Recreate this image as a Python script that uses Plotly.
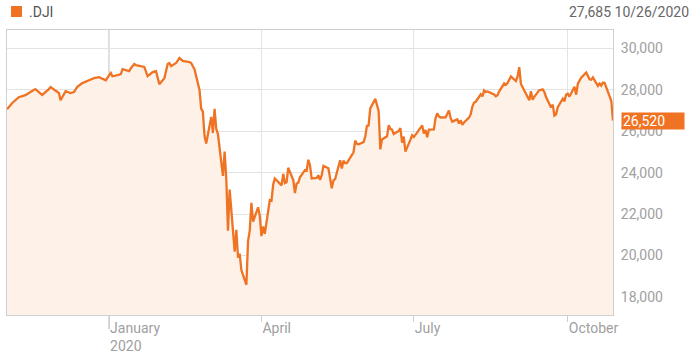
import plotly.graph_objects as go

dates = [
    "2019-11-01","2019-11-04","2019-11-08","2019-11-12","2019-11-15","2019-11-18","2019-11-20","2019-11-22",
    "2019-11-26","2019-11-27","2019-12-02","2019-12-03","2019-12-04","2019-12-06","2019-12-09","2019-12-11",
    "2019-12-13","2019-12-16","2019-12-20","2019-12-23","2019-12-26","2019-12-30",
    "2020-01-02","2020-01-03","2020-01-06","2020-01-08","2020-01-09","2020-01-13","2020-01-14","2020-01-16",
    "2020-01-17","2020-01-22","2020-01-24","2020-01-27","2020-01-29","2020-01-31",
    "2020-02-03","2020-02-05","2020-02-06","2020-02-07","2020-02-10","2020-02-12","2020-02-14","2020-02-18",
    "2020-02-19","2020-02-21","2020-02-24","2020-02-25","2020-02-26","2020-02-27","2020-02-28",
    "2020-03-02","2020-03-03","2020-03-04","2020-03-05","2020-03-06","2020-03-09","2020-03-10","2020-03-11",
    "2020-03-12","2020-03-13","2020-03-16","2020-03-17","2020-03-18","2020-03-19","2020-03-20","2020-03-23",
    "2020-03-24","2020-03-25","2020-03-26","2020-03-27","2020-03-30","2020-03-31",
    "2020-04-01","2020-04-02","2020-04-03","2020-04-06","2020-04-07","2020-04-08","2020-04-09","2020-04-13",
    "2020-04-14","2020-04-15","2020-04-16","2020-04-17","2020-04-20","2020-04-21","2020-04-22","2020-04-23",
    "2020-04-24","2020-04-27","2020-04-28","2020-04-29","2020-04-30",
    "2020-05-01","2020-05-04","2020-05-05","2020-05-06","2020-05-07","2020-05-08","2020-05-11","2020-05-12",
    "2020-05-13","2020-05-14","2020-05-15","2020-05-18","2020-05-19","2020-05-20","2020-05-21","2020-05-22",
    "2020-05-26","2020-05-27","2020-05-28","2020-05-29",
    "2020-06-01","2020-06-02","2020-06-03","2020-06-04","2020-06-05","2020-06-08","2020-06-09","2020-06-10",
    "2020-06-11","2020-06-12","2020-06-15","2020-06-16","2020-06-17","2020-06-18","2020-06-19","2020-06-22",
    "2020-06-23","2020-06-24","2020-06-25","2020-06-26","2020-06-29","2020-06-30",
    "2020-07-01","2020-07-02","2020-07-06","2020-07-07","2020-07-08","2020-07-09","2020-07-10","2020-07-13",
    "2020-07-14","2020-07-15","2020-07-16","2020-07-17","2020-07-20","2020-07-21","2020-07-22","2020-07-23",
    "2020-07-24","2020-07-27","2020-07-28","2020-07-29","2020-07-30","2020-07-31",
    "2020-08-03","2020-08-04","2020-08-05","2020-08-06","2020-08-07","2020-08-10","2020-08-11","2020-08-12",
    "2020-08-13","2020-08-14","2020-08-17","2020-08-18","2020-08-19","2020-08-20","2020-08-21","2020-08-24",
    "2020-08-25","2020-08-26","2020-08-27","2020-08-28","2020-08-31",
    "2020-09-01","2020-09-02","2020-09-03","2020-09-04","2020-09-08","2020-09-09","2020-09-10","2020-09-11",
    "2020-09-14","2020-09-15","2020-09-16","2020-09-17","2020-09-18","2020-09-21","2020-09-22","2020-09-23",
    "2020-09-24","2020-09-25","2020-09-28","2020-09-29","2020-09-30",
    "2020-10-01","2020-10-02","2020-10-05","2020-10-06","2020-10-07","2020-10-08","2020-10-09","2020-10-12",
    "2020-10-13","2020-10-14","2020-10-15","2020-10-16","2020-10-19","2020-10-20","2020-10-21","2020-10-22",
    "2020-10-23","2020-10-26","2020-10-27","2020-10-28",
]

values = [
    27070, 27360, 27650, 27750, 27900, 28040, 27900, 27760,
    28040, 28140, 27850, 27500, 27650, 27940, 27850, 27900,
    28150, 28330, 28470, 28570, 28620, 28470,
    28820, 28660, 28710, 28760, 29000, 28910, 29050, 29250,
    29200, 29110, 28670, 28860, 28910, 28280,
    28570, 29250, 29300, 29150, 29300, 29540, 29400, 29350,
    29300, 29000, 28000, 27100, 26950, 25770, 25410,
    26700, 25920, 27090, 26120, 25870, 23850, 25020, 23700,
    21200, 23190, 20190, 21240, 19900, 20090, 19300, 18590,
    20700, 21200, 22550, 21640, 22330, 21920,
    20940, 21410, 21050, 22680, 22650, 23430, 23720, 23390,
    23950, 23500, 23540, 24240, 23650, 23020, 23480, 23520,
    23780, 24130, 24100, 24630, 24350,
    23720, 23750, 23880, 23660, 23880, 24330, 24220, 23760,
    23250, 23630, 23690, 24600, 24210, 24580, 24470, 24470,
    24990, 25550, 25400, 25380,
    25480, 25740, 26270, 26280, 27110, 27570, 27270, 26990,
    25130, 25610, 25760, 26290, 26120, 26080, 25870, 26020,
    26160, 25450, 25750, 25020, 25600, 25810,
    25730, 25830, 26290, 25890, 26070, 25710, 26080, 26090,
    26640, 26870, 26730, 26670, 26680, 26840, 27010, 26650,
    26470, 26580, 26380, 26540, 26310, 26430,
    26660, 26830, 27200, 27390, 27430, 27790, 27690, 27980,
    27900, 27930, 27840, 27780, 27690, 27740, 27930, 28310,
    28250, 28330, 28490, 28650, 28430,
    28650, 29100, 28290, 28130, 27500, 27940, 27530, 27670,
    27990, 28000, 28030, 27900, 27660, 27150, 27290, 26760,
    26820, 27170, 27580, 27450, 27780,
    27820, 27680, 28150, 27770, 28300, 28430, 28590, 28840,
    28680, 28510, 28490, 28610, 28200, 28310, 28210, 28360,
    28340, 27690, 27460, 26520,
]

series_name = ".DJI"
header_value = "27,685"
header_date = "10/26/2020"
x_tick_vals = ["2020-01-01", "2020-04-01", "2020-07-01", "2020-10-01"]
x_tick_text = ["January<br>2020", "April", "July", "October"]
y_tick_vals = [18000, 20000, 22000, 24000, 26000, 28000, 30000]
y_range = [17130, 30895]
x_range = ["2019-11-01", "2020-10-28"]

ORANGE = "#EF7322"
FILL = "#FDF1E8"
GRID = "#E3E3E3"
TXT = "#A0A0A0"

fig = go.Figure()
fig.add_trace(go.Scatter(
    x=dates, y=values, mode="lines", name=series_name,
    line=dict(color=ORANGE, width=2.3), fill="tozeroy", fillcolor=FILL,
    hoverinfo="skip", showlegend=False,
))

last_x, last_y = dates[-1], values[-1]

fig.update_layout(
    width=696, height=361,
    margin=dict(l=7, r=83, t=30, b=46),
    paper_bgcolor="white", plot_bgcolor="white",
    font=dict(family="Roboto", size=14, color=TXT),
    xaxis=dict(
        type="date", range=x_range, tickvals=x_tick_vals, ticktext=x_tick_text,
        ticklabelposition="outside right", ticks="outside", ticklen=6, tickcolor="#CFCFCF",
        showgrid=True, gridcolor=GRID, gridwidth=1,
        showline=True, linecolor="#CFCFCF", linewidth=1, mirror=True,
        tickfont=dict(family="Roboto", size=14, color=TXT), zeroline=False,
    ),
    yaxis=dict(
        side="right", range=y_range, tickvals=y_tick_vals, tickformat=",d",
        showgrid=True, gridcolor=GRID, gridwidth=1, ticks="", ticklabelstandoff=4,
        showline=True, linecolor="#CFCFCF", linewidth=1, mirror=True,
        tickfont=dict(family="Roboto", size=14, color=TXT), zeroline=False,
    ),
    shapes=[
        dict(type="line", xref="x", yref="paper", x0=x_tick_vals[0], x1=x_tick_vals[0],
             y0=-0.05, y1=1, line=dict(color="#A8A8A8", width=1), layer="below"),
        dict(type="path", xref="x", yref="y", xsizemode="pixel", ysizemode="pixel",
             xanchor=last_x, yanchor=last_y, path="M 2,0 L 9,7.5 L 9,-7.5 Z",
             fillcolor=ORANGE, line=dict(width=0)),
        dict(type="rect", xref="paper", yref="paper", xsizemode="pixel", ysizemode="pixel",
             xanchor=0, yanchor=1, x0=4, x1=15, y0=13, y1=24,
             fillcolor=ORANGE, line=dict(width=0)),
    ],
    annotations=[
        dict(x=last_x, y=last_y, xref="x", yref="y", xanchor="left", yanchor="middle",
             xshift=8, text="26,520 ", showarrow=False, bgcolor=ORANGE,
             font=dict(family="Roboto", size=14, color="white"),
             width=60, height=14, align="left", borderpad=1),
        dict(x=0, y=1, xref="paper", yref="paper", xanchor="left", yanchor="middle",
             xshift=20, yshift=18, text=series_name, showarrow=False,
             font=dict(family="Roboto", size=14, color="#555555")),
        dict(x=1, y=1, xref="paper", yref="paper", xanchor="right", yanchor="middle",
             xshift=78, yshift=18, text=header_value + " " + header_date, showarrow=False,
             font=dict(family="Roboto", size=14, color="#666666")),
    ],
)

fig.write_html("out.html")
